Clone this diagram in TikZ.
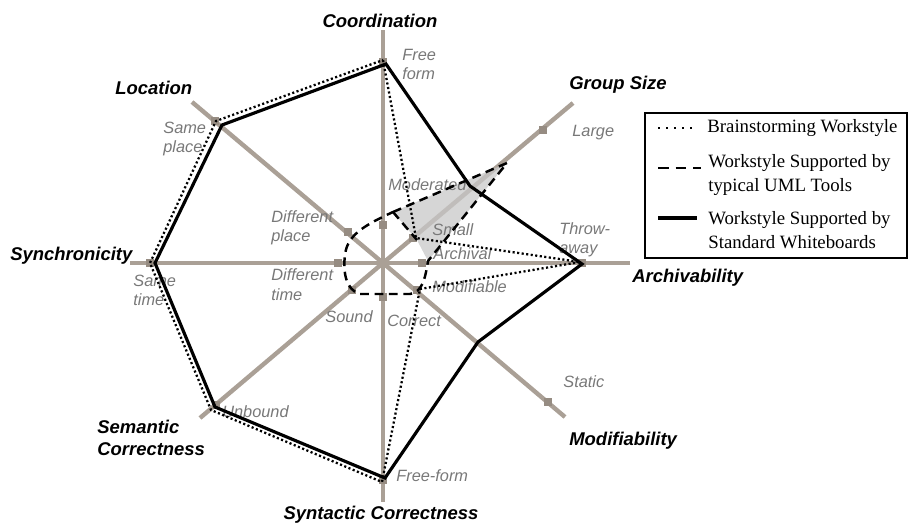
\documentclass[tikz,border=0pt]{standalone}
\usepackage{fontspec}
\setmainfont{Liberation Serif}
\setsansfont{Liberation Sans}
\definecolor{axiscol}{RGB}{170,160,150}
\definecolor{markcol}{RGB}{150,140,130}
\definecolor{labcol}{RGB}{120,120,120}
\definecolor{shadecol}{RGB}{200,200,200}
\begin{document}
\begin{tikzpicture}[x=0.02cm,y=-0.02cm,
  axis/.style={draw=axiscol,line width=2.5pt},
  marker/.style={fill=markcol,inner sep=0pt,minimum size=4.6pt},
  lab/.style={font=\sffamily\itshape\fontsize{9.3}{11}\selectfont,text=labcol,inner sep=0pt,anchor=west,align=left},
  ttl/.style={font=\sffamily\bfseries\itshape\fontsize{10.5}{12.5}\selectfont,inner sep=0pt,align=left},
  solidline/.style={line width=1.8pt,line join=miter},
  dotline/.style={line width=1.3pt,dash pattern=on 1.2pt off 1.4pt},
  dashline/.style={line width=1.4pt,dash pattern=on 5pt off 3.2pt},
  leg/.style={font=\fontsize{10.7}{13.7}\selectfont,inner sep=0pt,anchor=west,align=left}]
\useasboundingbox (0,0) rectangle (910,525);
% axis ends
\coordinate (c) at (383,263);
\coordinate (aN) at (383,30);
\coordinate (aS) at (383,502);
\coordinate (aW) at (130,263);
\coordinate (aE) at (630,263);
\coordinate (aNE) at (573,103);
\coordinate (aNW) at (192,102);
\coordinate (aSW) at (200,418);
\coordinate (aSE) at (565,417);
\draw[axis] (aN) -- (aS);
\draw[axis] (aW) -- (aE);
\draw[axis] (c) -- (aNE);
\draw[axis] (c) -- (aNW);
\draw[axis] (c) -- (aSW);
\draw[axis] (c) -- (aSE);
% markers
\node[marker] (coI) at (383,225) {};
\node[marker] (coO) at (383,62) {};
\node[marker] (gsI) at (413,238) {};
\node[marker] (gsO) at (543,130) {};
\node[marker] (arI) at (422,263) {};
\node[marker] (arO) at (582,263) {};
\node[marker] (moI) at (417,290) {};
\node[marker] (moO) at (548,402) {};
\node[marker] (syI) at (383,297) {};
\node[marker] (syO) at (383,480) {};
\node[marker] (seI) at (352,290) {};
\node[marker] (seO) at (216,405) {};
\node[marker] (snI) at (338,263) {};
\node[marker] (snO) at (150,263) {};
\node[marker] (loI) at (348,232) {};
\node[marker] (loO) at (215,121) {};
% shaded region
\coordinate (d1) at (393,212);
\coordinate (d2) at (507,163);
\coordinate (d3) at (428,261);
\coordinate (d4) at (417,240);
\fill[shadecol,opacity=0.75] (d1) -- (d2) -- (d3) -- (d4) -- cycle;
% labels
\node[lab] (lFree) at (402,64.5) {Free\\form};
\node[ttl] (tCo) at (380,21) {Coordination};
\node[ttl] (tGs) at (618,85) {Group Size};
\node[lab] (lLarge) at (572,133) {Large};
\node[lab] (lMod) at (388,185) {Moderated};
\node[lab] (lSmall) at (432,230) {Small};
\node[lab] (lArch) at (433,254) {Archival};
\node[lab] (lThrow) at (559,240) {Throw-\\away};
\node[ttl,anchor=west] (tAr) at (632,278) {Archivability};
\node[lab] (lModif) at (432,287) {Modifiable};
\node[lab] (lStatic) at (563,382) {Static};
\node[ttl,anchor=west] (tMo) at (569,441) {Modifiability};
\node[lab] (lCorrect) at (387,321) {Correct};
\node[lab] (lFreeform) at (396,476) {Free-form};
\node[ttl] (tSy) at (381,515) {Syntactic Correctness};
\node[lab] (lSound) at (325,317) {Sound};
\node[lab] (lUnb) at (222,412) {Unbound};
\node[ttl,anchor=west] (tSe) at (97,438) {Semantic\\Correctness};
\node[lab] (lSameT) at (133,290.5) {Same\\time};
\node[ttl,anchor=west] (tSn) at (10,256) {Synchronicity};
\node[lab] (lDiffT) at (271,284.5) {Different\\time};
\node[lab] (lDiffP) at (271,228) {Different\\place};
\node[lab] (lSameP) at (163,139) {Same\\place};
\node[ttl,anchor=west] (tLo) at (115,88) {Location};
% dashed (UML tools)
\draw[dashline] (d1) -- (d2) -- (d3) .. controls (425,280) and (422,292) .. (410,294)
  -- (360,294) .. controls (345,290) and (343,270) .. (345,255)
  .. controls (347,235) and (365,225) .. (d1) -- cycle;
\draw[dashline] (d1) -- (d4);
% dotted (brainstorming)
\coordinate (b1) at (383,60);
\coordinate (b2) at (416,238);
\coordinate (b3) at (580,262);
\coordinate (b4) at (420,289);
\coordinate (b5) at (382,482);
\coordinate (b6) at (211,410);
\coordinate (b7) at (150,263);
\coordinate (b8) at (216,121);
\draw[dotline] (b1) -- (b2) -- (b3) -- (b4) -- (b5) -- (b6) -- (b7) -- (b8) -- cycle;
% solid (whiteboards)
\coordinate (s1) at (386,64);
\coordinate (s2) at (470,186);
\coordinate (s3) at (582,264);
\coordinate (s4) at (478,342);
\coordinate (s5) at (385,478);
\coordinate (s6) at (215,407);
\coordinate (s7) at (155,263);
\coordinate (s8) at (222,125);
\draw[solidline] (s1) -- (s2) -- (s3) -- (s4) -- (s5) -- (s6) -- (s7) -- (s8) -- cycle;
% legend
\coordinate (lb1) at (645,113);
\coordinate (lb2) at (907,258);
\draw[line width=0.6pt] (lb1) rectangle (lb2);
\coordinate (k1a) at (658,128); \coordinate (k1b) at (694,128);
\coordinate (k2a) at (658,168); \coordinate (k2b) at (701,168);
\coordinate (k3a) at (658,218); \coordinate (k3b) at (697,218);
\draw[line width=1.1pt,dash pattern=on 1.1pt off 3.5pt] (k1a) -- (k1b);
\draw[line width=1.2pt,dash pattern=on 6pt off 4pt] (k2a) -- (k2b);
\draw[line width=1.8pt] (k3a) -- (k3b);
\node[leg] (g1) at (707,128) {Brainstorming Workstyle};
\node[leg] (g2) at (708,175) {Workstyle Supported by\\typical UML Tools};
\node[leg] (g3) at (708,230.5) {Workstyle Supported by\\Standard Whiteboards};
\end{tikzpicture}
\end{document}
